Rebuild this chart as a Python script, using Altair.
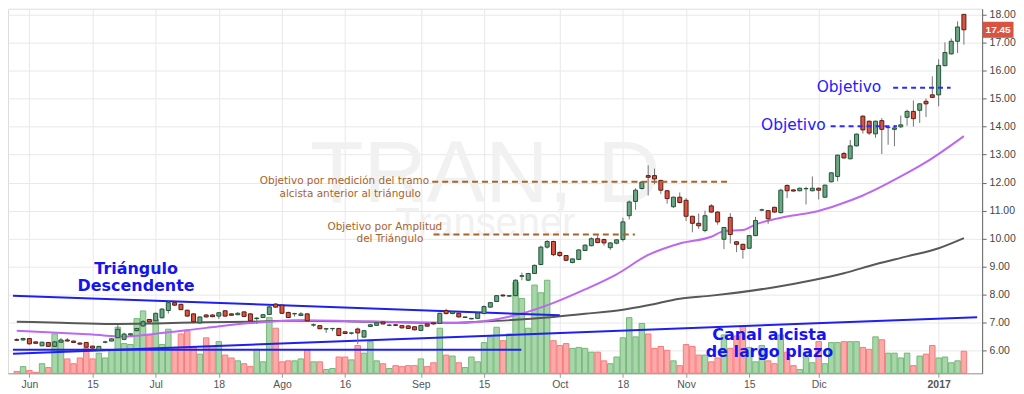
import altair as alt
import pandas as pd

# ---------------- data ----------------
opens = [6.40,6.39,6.44,6.32,6.18,6.30,6.16,6.31,6.39,6.35,
6.28,6.30,6.17,6.04,6.31,6.35,6.47,6.41,6.57,6.72,
6.89,7.12,7.07,7.18,7.44,7.72,7.66,7.45,7.32,7.00,
7.28,7.28,7.24,7.43,7.32,7.29,7.39,7.32,7.15,7.19,
7.30,7.67,7.63,7.37,7.32,7.26,7.32,6.92,6.90,6.78,
6.79,6.80,6.68,6.63,6.78,6.49,6.87,6.91,7.03,6.91,
6.93,6.90,6.89,6.86,6.73,6.96,7.00,6.98,7.44,7.33,
7.34,7.19,7.14,7.16,7.33,7.56,7.76,7.99,7.95,7.97,
8.66,8.52,8.76,9.08,9.70,9.90,9.51,9.40,9.15,9.26,
9.58,9.75,10.00,9.97,9.68,9.84,9.97,10.82,11.33,11.79,
12.25,12.25,12.08,11.71,11.14,11.48,11.37,10.80,10.55,10.29,
11.17,10.95,9.98,10.76,9.89,9.80,9.66,10.11,11.02,11.00,
11.12,10.93,11.90,11.74,11.71,11.78,11.71,11.80,11.48,12.03,
12.22,13.04,12.85,13.31,14.37,14.19,13.74,14.21,13.96,13.90,
13.99,14.33,14.54,14.58,14.90,15.13,15.13,16.17,16.59,17.04,
18.00]

highs = [6.45,6.47,6.46,6.34,6.32,6.31,6.36,6.46,6.46,6.36,
6.30,6.31,6.18,6.18,6.36,6.45,6.92,6.65,6.63,6.82,
7.10,7.14,7.36,7.52,7.78,7.76,7.68,7.47,7.34,7.23,
7.31,7.30,7.38,7.45,7.34,7.38,7.41,7.34,7.20,7.31,
7.60,7.70,7.65,7.40,7.36,7.38,7.34,6.98,6.92,6.80,
6.82,6.82,6.70,6.66,6.83,6.74,6.96,7.02,7.05,6.95,
6.96,6.92,6.91,6.88,6.93,6.98,7.02,7.36,7.50,7.41,
7.36,7.22,7.17,7.37,7.62,7.74,7.99,8.02,7.99,8.55,
8.79,8.78,9.08,9.75,9.95,9.93,9.55,9.42,9.30,9.62,
9.80,10.05,10.17,10.00,9.87,9.98,10.75,11.36,11.80,12.05,
12.62,12.50,12.10,11.74,11.50,11.65,11.45,10.82,10.90,11.00,
11.23,10.98,10.42,10.91,9.91,9.82,10.13,10.78,11.07,11.02,
11.14,11.78,11.93,11.76,11.82,11.85,12.22,11.82,11.93,12.37,
13.00,13.10,13.52,13.75,14.40,14.21,14.21,14.30,13.99,14.05,
14.39,14.60,14.93,14.83,15.00,15.79,16.40,17.00,17.14,17.75,
18.00]

lows = [6.35,6.35,6.23,6.25,6.17,6.15,6.15,6.30,6.34,6.29,
6.23,6.10,6.08,6.03,6.27,6.34,6.45,6.38,6.55,6.70,
6.85,7.00,7.05,7.16,7.33,7.60,7.45,7.22,7.02,6.96,
7.19,7.20,7.14,7.22,7.25,7.27,7.20,7.02,6.96,7.17,
7.28,7.54,7.32,7.17,7.22,7.24,7.05,6.86,6.77,6.64,
6.70,6.52,6.60,6.58,6.24,6.47,6.85,6.89,6.94,6.88,
6.88,6.80,6.78,6.73,6.70,6.86,6.94,6.96,7.30,7.31,
7.19,7.18,7.13,7.14,7.31,7.54,7.74,7.94,7.93,7.95,
8.52,8.50,8.74,9.05,9.65,9.38,9.35,9.20,9.12,9.24,
9.56,9.73,9.84,9.75,9.60,9.80,9.90,10.69,11.03,11.75,
11.54,11.94,11.60,11.25,11.10,11.26,10.63,10.23,10.35,10.23,
10.93,10.50,9.63,9.83,9.52,9.29,9.64,10.09,10.98,10.53,
10.93,10.90,11.45,11.68,11.69,11.22,11.69,11.40,11.46,12.01,
12.05,12.86,12.83,13.29,13.75,13.70,13.60,13.02,13.35,13.30,
13.95,14.03,14.00,14.13,14.34,15.02,14.72,16.15,16.57,16.62,
16.92]

closes = [6.38,6.44,6.25,6.27,6.31,6.16,6.32,6.39,6.35,6.30,
6.24,6.13,6.10,6.16,6.32,6.43,6.77,6.60,6.61,6.80,
7.04,7.03,7.34,7.49,7.72,7.63,7.47,7.24,7.04,7.21,
7.21,7.22,7.36,7.24,7.27,7.34,7.23,7.07,7.17,7.29,
7.57,7.56,7.34,7.19,7.33,7.32,7.07,6.93,6.79,6.79,
6.80,6.55,6.62,6.64,6.64,6.72,6.93,7.00,6.96,6.92,
6.91,6.82,6.80,6.75,6.91,6.88,6.96,7.34,7.33,7.39,
7.21,7.21,7.16,7.35,7.58,7.72,7.97,7.96,7.97,8.52,
8.68,8.76,9.05,9.70,9.90,9.43,9.40,9.23,9.28,9.60,
9.77,10.00,9.86,9.85,9.85,9.96,10.60,11.31,11.73,12.02,
12.19,12.13,11.73,11.43,11.48,11.29,10.80,10.55,10.46,10.82,
10.95,10.60,10.40,10.15,9.80,9.62,10.11,10.65,11.03,10.71,
10.95,11.73,11.71,11.70,11.80,11.79,11.80,11.73,11.91,12.35,
12.98,12.88,13.31,13.73,13.88,13.77,14.19,13.90,13.97,13.95,
14.06,14.54,14.28,14.81,14.81,15.04,16.18,16.64,17.04,17.55,
17.45]

volumes = [2,7,3,1,10,6,41,34,15,10,
16,26,15,21,16,24,48,31,30,57,
65,40,56,30,46,27,41,44,27,20,
37,28,33,19,16,13,10,7,25,12,
58,47,12,13,13,15,24,12,12,4,
5,17,17,14,29,21,33,13,10,5,
8,7,8,8,15,7,11,47,19,18,
11,6,17,12,32,38,48,34,41,95,
78,47,92,84,97,34,29,31,26,27,
26,22,22,13,10,17,37,58,38,52,
41,26,28,24,13,8,30,28,19,19,
12,16,40,26,39,49,27,12,29,13,
10,40,22,8,4,22,11,33,10,32,
32,33,33,33,27,25,38,35,21,21,
16,21,8,18,20,29,16,17,11,13,
23]

# moving averages (sampled along the curve)
ma_fast_i = [0, 12, 17, 22, 30, 37, 45, 53, 60, 70, 75, 80, 85, 90, 95, 100,
             105, 110, 112, 115, 117, 122, 127, 130, 134, 140, 144, 150]
ma_fast_v = [6.72, 6.58, 6.51, 6.61, 6.82, 6.99, 7.09, 7.06, 7.03, 6.99, 7.09, 7.33,
             7.71, 8.19, 8.73, 9.42, 9.83, 10.07, 10.27, 10.31, 10.51, 10.79, 10.99,
             11.20, 11.54, 12.22, 12.73, 13.66]
ma_slow_i = [0, 7, 15, 22, 30, 37, 44, 56, 67, 76, 85, 90, 96, 100, 105, 110,
             120, 126, 131, 136, 141, 146, 150]
ma_slow_v = [7.04, 7.00, 6.96, 6.98, 7.02, 7.04, 7.07, 7.04, 7.00, 7.07, 7.21, 7.32,
             7.47, 7.63, 7.86, 7.97, 8.27, 8.52, 8.77, 9.09, 9.37, 9.66, 10.02]

# x axis (trading-day index -> label)
tick_idx = [2, 12, 22, 32, 42, 52, 64, 74, 86, 96, 106, 116, 127, 146]
tick_lbl = ["Jun", "15", "Jul", "18", "Ago", "16", "Sep", "15", "Oct", "18",
            "Nov", "15", "Dic", "2017"]
price_ticks = list(range(6, 19))

# drawn trend lines
trend_x0 = [-0.6, -0.6, -0.6]
trend_x1 = [86.0, 79.9, 152.1]
trend_p0 = [7.97, 6.04, 5.90]
trend_p1 = [7.27, 6.04, 7.20]

# target (dashed) lines
brown_x0 = [65.8, 66.0]
brown_x1 = [112.8, 97.9]
brown_p = [12.03, 10.15]
goal_x0 = [128.9, 138.8]
goal_x1 = [139.4, 147.9]
goal_p = [14.01, 15.38]

# annotations
bold_txt = ["Triángulo", "Descendente", "Canal alcista", "de largo plazo"]
bold_i = [18.9, 18.9, 119.2, 119.2]
bold_p = [8.91, 8.33, 6.55, 5.97]
note_txt = ["Objetivo por medición del  tramo", "alcista anterior al triángulo",
            "Objetivo por Amplitud", "del Triángulo"]
note_i = [51.9, 52.8, 58.3, 59.1]
note_p = [12.05, 11.61, 10.41, 10.00]
goal_txt = ["Objetivo", "Objetivo"]
goal_i = [123.0, 131.8]
goal_tp = [14.07, 15.40]
wm_txt = ["TRAN, D", "Transener"]
wm_i = [74.2, 74.2]
wm_p = [11.30, 10.10]
wm_fs = [88, 40]

# ---------------- chart ----------------
W, H = 978, 366
n = len(closes)
df = pd.DataFrame({"i": list(range(n)), "open": opens, "high": highs,
                   "low": lows, "close": closes, "vol": volumes})
df["dir"] = ["up" if c >= o else "down" for o, c in zip(opens, closes)]

x_scale = alt.Scale(domain=[-0.6, 152.1], nice=False, zero=False)
price_scale = alt.Scale(domain=[5.2, 18.2], nice=False, zero=False)

lbl_expr = " : ".join(f"datum.value == {p} ? '{l}'" for p, l in zip(tick_idx, tick_lbl)) + " : ''"

x_axis = alt.Axis(values=tick_idx, labelExpr=lbl_expr, title=None, grid=True,
                  gridColor="#e8e8e8", domainColor="#9a9a9a", tickColor="#9a9a9a",
                  tickSize=4, labelColor="#555555", labelFontSize=10.5,
                  labelFont="Liberation Sans", labelPadding=2, labelOverlap=False,
                  labelFlush=False,
                  labelFontWeight={"condition": {"test": "datum.value == 146", "value": "bold"},
                                   "value": "normal"})
y_axis = alt.Axis(orient="right", values=price_ticks, format=".2f", title=None,
                  grid=True, gridColor="#e8e8e8", domainColor="#666666",
                  tickColor="#666666", tickSize=4, labelColor="#444444",
                  labelFontSize=10.5, labelFont="Liberation Sans", labelPadding=3)


def X(f="i"):
    return alt.X(f, type="quantitative", scale=x_scale, axis=x_axis)


def Yp(f):
    return alt.Y(f, type="quantitative", scale=price_scale, axis=None)


base = alt.Chart(df)

# watermark
wm_df = pd.DataFrame({"t": wm_txt, "i": wm_i, "p": wm_p, "fs": wm_fs})
watermark = alt.Chart(wm_df).mark_text(color="#f1f1f1", font="Liberation Sans",
                                       align="center", baseline="alphabetic").encode(
    x=X(), y=Yp("p"), text="t:N", size=alt.Size("fs:Q", scale=None, legend=None))

# volume
vol_scale = alt.Scale(domain=[0, 380], nice=False, zero=True)
vol_up = base.transform_filter(alt.datum.dir == "up").mark_bar(
    size=5.5, fill="#a8d6aa", stroke="#72b876", strokeWidth=1).encode(
    x=X(), y=alt.Y("vol:Q", scale=vol_scale, axis=None))
vol_dn = base.transform_filter(alt.datum.dir == "down").mark_bar(
    size=5.5, fill="#fca9a9", stroke="#f77b7b", strokeWidth=1).encode(
    x=X(), y=alt.Y("vol:Q", scale=vol_scale, axis=None))

# moving averages
slow_df = pd.DataFrame({"i": ma_slow_i, "v": ma_slow_v})
fast_df = pd.DataFrame({"i": ma_fast_i, "v": ma_fast_v})
ma_slow = alt.Chart(slow_df).mark_line(color="#585858", strokeWidth=2,
                                       interpolate="monotone").encode(x=X(), y=Yp("v"))
ma_fast = alt.Chart(fast_df).mark_line(color="#bc68f0", strokeWidth=2,
                                       interpolate="monotone").encode(x=X(), y=Yp("v"))

# trend lines
tr_df = pd.DataFrame({"x0": trend_x0, "x1": trend_x1, "p0": trend_p0, "p1": trend_p1})
trends = alt.Chart(tr_df).mark_rule(color="#1f1fef", strokeWidth=2).encode(
    x=X("x0"), x2="x1:Q", y=Yp("p0"), y2="p1:Q")

# candles
wicks = base.mark_rule(color="#737375", strokeWidth=1).encode(
    x=X(), y=alt.Y("low:Q", scale=price_scale, axis=y_axis), y2="high:Q")
body_up = base.transform_filter(alt.datum.dir == "up").mark_bar(
    size=4, fill="#6ba583", stroke="#225437", strokeWidth=1).encode(
    x=X(), y=Yp("open"), y2="close:Q")
body_dn = base.transform_filter(alt.datum.dir == "down").mark_bar(
    size=4, fill="#d75442", stroke="#5b1a13", strokeWidth=1).encode(
    x=X(), y=Yp("open"), y2="close:Q")

# target lines
br_df = pd.DataFrame({"x0": brown_x0, "x1": brown_x1, "p": brown_p})
brown_lines = alt.Chart(br_df).mark_rule(color="#a5652d", strokeWidth=2,
                                         strokeDash=[6, 4]).encode(
    x=X("x0"), x2="x1:Q", y=Yp("p"))
gl_df = pd.DataFrame({"x0": goal_x0, "x1": goal_x1, "p": goal_p})
goal_lines = alt.Chart(gl_df).mark_rule(color="#2b2bff", strokeWidth=2,
                                        strokeDash=[5, 4]).encode(
    x=X("x0"), x2="x1:Q", y=Yp("p"))

# annotations
bold_df = pd.DataFrame({"t": bold_txt, "i": bold_i, "p": bold_p})
bold_text = alt.Chart(bold_df).mark_text(font="DejaVu Sans", fontSize=16,
                                         fontWeight="bold", color="#1414f0",
                                         align="center", baseline="middle").encode(
    x=X(), y=Yp("p"), text="t:N")
note_df = pd.DataFrame({"t": note_txt, "i": note_i, "p": note_p})
note_text = alt.Chart(note_df).mark_text(font="DejaVu Sans", fontSize=10.5,
                                         color="#a8622a", align="center",
                                         baseline="middle").encode(
    x=X(), y=Yp("p"), text="t:N")
goal_df = pd.DataFrame({"t": goal_txt, "i": goal_i, "p": goal_tp})
goal_text = alt.Chart(goal_df).mark_text(font="DejaVu Sans", fontSize=15.5,
                                         color="#2020ff", align="center",
                                         baseline="middle").encode(
    x=X(), y=Yp("p"), text="t:N")

# last price tag
last = base.transform_filter(alt.datum.i == n - 1)
tag = last.mark_point(shape="M-1,-0.52L1,-0.52L1,0.52L-1,0.52Z", size=961,
                      filled=True, color="#d75442", opacity=1, strokeWidth=0).encode(
    x=alt.value(W + 16), y=Yp("close"))
tag_text = last.mark_text(color="white", font="Liberation Sans", fontSize=10,
                          fontWeight="bold", align="center", baseline="middle").encode(
    x=alt.value(W + 16), y=Yp("close"), text=alt.Text("close:Q", format=".2f"))

chart = alt.layer(
    watermark, vol_up, vol_dn, ma_slow, ma_fast, trends, wicks, body_up, body_dn,
    brown_lines, goal_lines, bold_text, note_text, goal_text, tag, tag_text
).resolve_scale(y="independent").properties(
    width=W, height=H, padding={"left": 0, "top": 0, "right": 0, "bottom": 0}
).configure_view(stroke=None).configure(background="white")

chart.save("out.html", embed_options={"renderer": "svg", "actions": False})
